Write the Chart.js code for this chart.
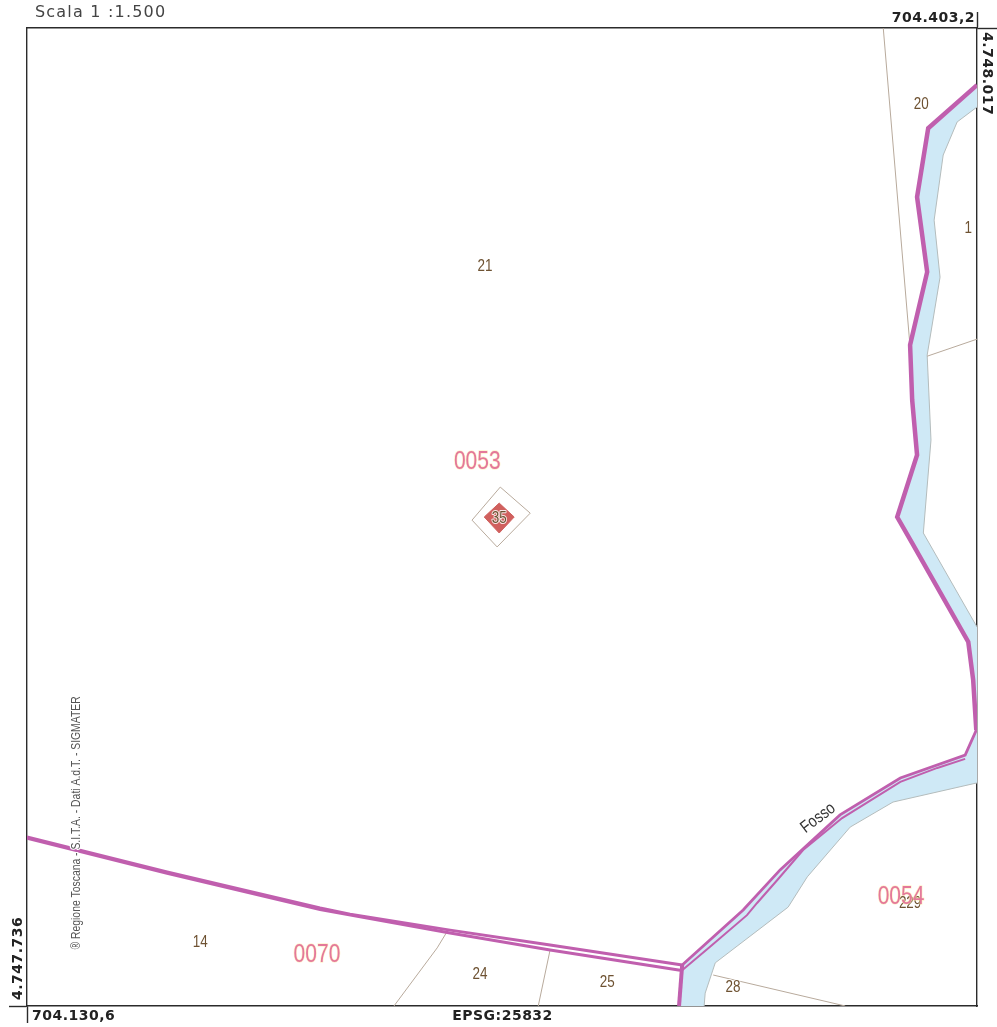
<!DOCTYPE html>
<html lang="it">
<head>
<meta charset="utf-8">
<title>Scala 1 :1.500</title>
<script src="https://cdn.jsdelivr.net/npm/chart.js@4"></script>
<style>
  html, body { margin: 0; padding: 0; background: #fff; }
  canvas { display: block; filter: blur(0.4px); }
</style>
</head>
<body>
<canvas id="mapChart" width="997" height="1027"></canvas>
<script>
// all positions are metres east / north of the south-west corner of the sheet
var mapWidth = 272.6;
var mapHeight = 281;

var scaleLabel = 'Scala 1 :1.500';
var southWestEast = '704.130,6';
var northEastEast = '704.403,2';
var southWestNorth = '4.747.736';
var northEastNorth = '4.748.017';
var projection = 'EPSG:25832';
var credit = '\u00AE Regione Toscana - S.I.T.A. - Dati A.d.T. - SIGMATER';

var parcelNames = ['20', '1', '21', '35', '14', '24', '25', '28', '229'];
var parcelEast = [256.6, 270.1, 131.4, 135.5, 49.7, 130.0, 166.5, 202.6, 253.4];
var parcelNorth = [258.9, 223.3, 212.4, 140.0, 18.2, 9.0, 6.7, 5.3, 29.4];

var sheetNames = ['0053', '0054', '0070'];
var sheetEast = [129.2, 250.8, 83.2];
var sheetNorth = [156.4, 31.4, 14.5];

var ditchEdge = [[272.6, 264.6], [258.6, 252.2], [255.4, 232.4], [258.3, 210.9], [253.4, 189.9],
  [254.0, 174.1], [255.4, 158.3], [249.7, 140.5], [254.0, 133.0], [270.1, 104.6], [271.5, 93.7],
  [272.4, 79.3], [269.2, 72.1], [250.6, 65.5], [233.3, 54.9], [216.1, 39.1], [205.5, 27.6],
  [188.0, 11.8], [187.1, 0]];
var ditchEdgeInner = [[269.2, 71.0], [261.2, 68.4], [250.6, 64.4], [233.9, 54.0], [222.7, 44.8],
  [215.3, 36.2], [209.5, 29.6], [206.6, 26.1], [196.0, 17.0], [188.0, 10.3]];
var southLine = [[0, 48.6], [40.2, 38.5], [84.1, 28.2], [92.7, 26.4], [121.4, 21.8], [150.1, 17.5], [188.0, 11.8]];
var southLineLower = [[0, 48.2], [40.2, 38.1], [84.1, 27.7], [121.4, 21.0], [150.1, 16.1], [187.4, 10.3]];

var bankSouth = [[194.3, 0], [194.6, 3.7], [197.5, 12.4], [218.4, 28.4], [223.9, 37.1],
  [236.2, 51.4], [248.5, 58.6], [272.6, 64.1]];
var bankNorth = [[272.6, 108.9], [257.2, 135.9], [259.4, 162.6], [258.3, 187.0], [262.0, 209.4],
  [260.3, 225.8], [262.9, 244.5], [266.9, 254.0], [272.6, 258.3]];

var parcelLines = [
  [[245.7, 281], [253.4, 189.3]],
  [[258.3, 186.7], [272.6, 191.6]],
  [[120.8, 21.8], [117.7, 16.7], [105.3, 0]],
  [[150.1, 16.1], [146.7, 0]],
  [[196.9, 8.9], [234.8, 0]]
];

var buildingOutline = [[135.8, 149.1], [144.4, 141.6], [134.9, 131.9], [127.7, 139.6], [135.8, 149.1]];
var buildingCore = [[135.5, 144.5], [139.8, 140.5], [135.5, 135.9], [131.2, 140.5], [135.5, 144.5]];

var inkColor = '#2b2b2b';
var magenta = '#c05fae';
var parcelColor = '#b8aa9c';
var bankColor = '#b4bcbc';
var waterColor = '#cfe9f6';

function toPoints(pairs) {
  return pairs.map(function (pair) {
    return { x: pair[0], y: pair[1] };
  });
}

function lineSet(pairs, color, width) {
  return {
    data: toPoints(pairs),
    showLine: true,
    borderColor: color,
    borderWidth: width,
    pointRadius: 0,
    fill: false,
    tension: 0
  };
}

function cornerScale(position, limit, tickValue, tickLength, fitSize) {
  return {
    type: 'linear',
    position: position,
    min: 0,
    max: limit,
    afterBuildTicks: function (scale) {
      scale.ticks = [{ value: 0 }, { value: limit }];
    },
    afterFit: function (scale) {
      if (scale.isHorizontal()) {
        scale.height = fitSize;
      } else {
        scale.width = fitSize;
      }
    },
    ticks: { display: false },
    border: { display: true, color: inkColor, width: 1.4 },
    grid: {
      display: true,
      drawOnChartArea: false,
      drawTicks: true,
      tickLength: tickLength,
      tickWidth: 1.4,
      tickColor: function (context) {
        return context.tick && context.tick.value === tickValue ? inkColor : 'rgba(0,0,0,0)';
      }
    }
  };
}

function drawHaloText(ctx, text, x, y, font, squeeze, color, halo, haloWidth, angle) {
  ctx.save();
  ctx.translate(x, y);
  ctx.rotate(angle || 0);
  ctx.scale(squeeze, 1);
  ctx.font = font;
  ctx.textAlign = 'center';
  ctx.textBaseline = 'middle';
  ctx.lineJoin = 'round';
  ctx.lineWidth = haloWidth;
  ctx.strokeStyle = halo;
  ctx.strokeText(text, 0, 0);
  ctx.fillStyle = color;
  ctx.fillText(text, 0, 0);
  ctx.restore();
}

function drawCornerText(ctx, text, x, y, angle, align) {
  ctx.save();
  ctx.fillStyle = '#222';
  ctx.font = 'bold 14px "DejaVu Sans", sans-serif';
  ctx.letterSpacing = '0.5px';
  ctx.textBaseline = 'middle';
  ctx.textAlign = align;
  ctx.translate(x, y);
  ctx.rotate(angle);
  ctx.fillText(text, 0, 0);
  ctx.restore();
}

var mapLabels = {
  id: 'mapLabels',
  afterDatasetsDraw: function (chart) {
    var ctx = chart.ctx;
    var x = chart.scales.x;
    var y = chart.scales.y;
    var narrow = '"Liberation Sans", sans-serif';

    parcelNames.forEach(function (name, i) {
      drawHaloText(ctx, name, x.getPixelForValue(parcelEast[i]), y.getPixelForValue(parcelNorth[i]),
        '16px ' + narrow, 0.84, '#6e5232', name === '229' ? 'rgba(0,0,0,0)' : 'rgba(255,255,255,0.85)', 2);
    });

    sheetNames.forEach(function (name, i) {
      drawHaloText(ctx, name, x.getPixelForValue(sheetEast[i]), y.getPixelForValue(sheetNorth[i]),
        '25px ' + narrow, 0.84, '#e4789a', 'rgba(255,235,170,0.6)', 1.5);
    });

    drawHaloText(ctx, 'Fosso', x.getPixelForValue(227.0), y.getPixelForValue(54.0),
      '17px ' + narrow, 0.84, '#333', '#fff', 2.5, -37 * Math.PI / 180);
    drawHaloText(ctx, credit, x.getPixelForValue(14.3), y.getPixelForValue(52.6),
      '12px ' + narrow, 0.865, '#555', '#fff', 2.5, -Math.PI / 2);

    // coordinates of the sheet corners, in the margins
    drawCornerText(ctx, southWestEast, x.getPixelForValue(0) + 5, 1016, 0, 'left');
    drawCornerText(ctx, projection, x.getPixelForValue(mapWidth / 2) + 0.5, 1016, 0, 'center');
    drawCornerText(ctx, northEastEast, x.getPixelForValue(mapWidth) - 2, 18, 0, 'right');
    drawCornerText(ctx, southWestNorth, 18, y.getPixelForValue(0) - 6, -Math.PI / 2, 'left');
    drawCornerText(ctx, northEastNorth, 987, y.getPixelForValue(mapHeight) + 4, Math.PI / 2, 'left');

    ctx.save();
    ctx.fillStyle = '#444';
    ctx.font = '16px "DejaVu Sans", sans-serif';
    ctx.letterSpacing = '1.2px';
    ctx.textBaseline = 'middle';
    ctx.textAlign = 'left';
    ctx.fillText(scaleLabel, 35, 13);
    ctx.restore();
  }
};

// first dataset ends up on top
var datasets = [];
datasets.push(lineSet(buildingCore, '#d0605e', 1));
datasets[0].fill = 'shape';
datasets[0].backgroundColor = '#d0605e';
datasets.push(lineSet(ditchEdge.slice(0, 12), magenta, 4.5));
datasets.push(lineSet(ditchEdge.slice(11, 18), magenta, 2.8));
datasets.push(lineSet(ditchEdge.slice(-2), magenta, 4));
datasets.push(lineSet(ditchEdgeInner, magenta, 2));
datasets.push(lineSet(southLine, magenta, 3));
datasets.push(lineSet(southLineLower, magenta, 3));
datasets.push(lineSet(buildingOutline, parcelColor, 1));
parcelLines.forEach(function (pairs) {
  datasets.push(lineSet(pairs, parcelColor, 1));
});
datasets.push(lineSet(bankSouth, bankColor, 1));
datasets.push(lineSet(bankNorth, bankColor, 1));

var water = lineSet(ditchEdge.concat(bankSouth, bankNorth), 'rgba(0,0,0,0)', 0);
water.fill = 'shape';
water.backgroundColor = waterColor;
datasets.push(water);

new Chart(document.getElementById('mapChart'), {
  type: 'scatter',
  data: { datasets: datasets },
  plugins: [mapLabels],
  options: {
    responsive: false,
    animation: false,
    events: [],
    plugins: {
      legend: { display: false },
      tooltip: { enabled: false },
      title: { display: false }
    },
    layout: { padding: 0 },
    scales: {
      x: cornerScale('bottom', mapWidth, 0, 17, 21),
      xTop: cornerScale('top', mapWidth, mapWidth, 16, 28),
      y: cornerScale('left', mapHeight, 0, 18, 27),
      yRight: cornerScale('right', mapHeight, mapHeight, 20, 20)
    }
  }
});
</script>
</body>
</html>
